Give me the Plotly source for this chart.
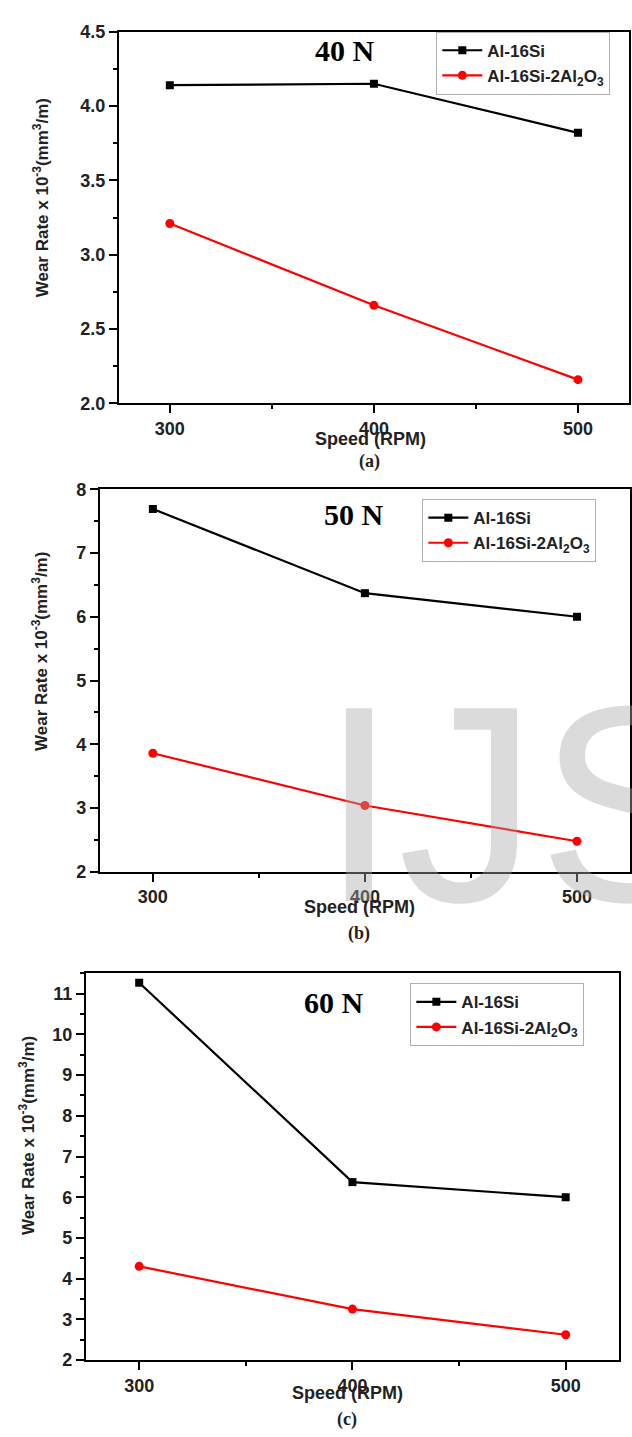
import plotly.graph_objects as go

W, H = 632, 1437

speed = [300, 400, 500]
series_names = ["Al-16Si", "Al-16Si-2Al<sub>2</sub>O<sub>3</sub>"]

wear_40N_al16si = [4.14, 4.15, 3.82]
wear_40N_composite = [3.21, 2.66, 2.16]
wear_50N_al16si = [7.69, 6.37, 6.00]
wear_50N_composite = [3.86, 3.04, 2.48]
wear_60N_al16si = [11.27, 6.37, 6.00]
wear_60N_composite = [4.30, 3.25, 2.62]

load_labels = ["40 N", "50 N", "60 N"]
panel_labels = ["(a)", "(b)", "(c)"]
y_ranges = [[2.0, 4.5], [2.0, 8.0], [2.0, 11.5]]
y_dticks = [0.5, 1, 1]
y_formats = [".1f", "d", "d"]

panels = [
    (wear_40N_al16si, wear_40N_composite),
    (wear_50N_al16si, wear_50N_composite),
    (wear_60N_al16si, wear_60N_composite),
]

# layout geometry in pixels
xdom_px = [(119, 630), (100, 631), (86, 620)]
ydom_px = [(22, 399), (486, 874), (977, 1369)]
ytitle_px = [(41, 190), (40, 650), (27, 1141)]
xtitle_px = [(371, 435), (360, 910), (348, 1403)]
plab_px = [(370, 458), (360, 937), (348, 1429)]
load_px = [(346, 41), (355, 512), (335, 1007)]
legend_px = [(437, 22), (423, 496), (411, 987)]


def px(x):
    return x / W


def py(y):
    return 1 - y / H


fig = go.Figure()
annotations = []

black = "#000000"
red = "#ff0000"
sans = "Liberation Sans, Arial, sans-serif"
serif = "Liberation Serif, Times New Roman, serif"
tick_font = dict(family=sans, size=18, color="#222222", weight="bold")

for i, (s1, s2) in enumerate(panels):
    k = "" if i == 0 else str(i + 1)
    xa = "x" + k
    ya = "y" + k
    leg = "legend" + k
    fig.add_trace(go.Scatter(
        x=speed, y=s1, name=series_names[0], mode="lines+markers",
        line=dict(color=black, width=2.2), marker=dict(symbol="square", size=8, color=black),
        xaxis=xa, yaxis=ya, legend=leg))
    fig.add_trace(go.Scatter(
        x=speed, y=s2, name=series_names[1], mode="lines+markers",
        line=dict(color=red, width=2.2), marker=dict(symbol="circle", size=9, color=red),
        xaxis=xa, yaxis=ya, legend=leg))

    x0, x1 = xdom_px[i]
    y0, y1 = ydom_px[i]
    common = dict(showline=True, linewidth=2, linecolor=black, mirror=True,
                  showgrid=False, zeroline=False, ticks="outside", ticklen=8, tickwidth=2,
                  tickcolor=black, tickfont=tick_font)
    fig.update_layout(**{
        "xaxis" + k: dict(domain=[px(x0), px(x1)], range=[275, 525], tickvals=speed,
                          anchor=ya, minor=dict(ticks="outside", ticklen=4, tickwidth=2,
                                                tickcolor=black, dtick=50, tick0=300),
                          **common),
        "yaxis" + k: dict(domain=[py(y1), py(y0)], range=y_ranges[i], dtick=y_dticks[i],
                          tick0=2, tickformat=y_formats[i], anchor=xa,
                          minor=dict(ticks="outside", ticklen=4, tickwidth=2, tickcolor=black,
                                     dtick=y_dticks[i] / 2, tick0=2),
                          **common),
        leg: dict(x=px(legend_px[i][0]), y=py(legend_px[i][1]), xanchor="left", yanchor="top",
                  bgcolor="white", bordercolor="#b0b0b0", borderwidth=1,
                  font=dict(family=sans, size=17, color="#222222", weight="bold"),
                  tracegroupgap=0, itemwidth=40),
    })

    annotations.append(dict(
        x=px(ytitle_px[i][0]), y=py(ytitle_px[i][1]), xref="paper", yref="paper",
        text="Wear Rate x 10<sup>-3</sup>(mm<sup>3</sup>/m)", textangle=-90, showarrow=False,
        xanchor="center", yanchor="middle",
        font=dict(family=sans, size=17, color="#222222", weight="bold")))
    annotations.append(dict(
        x=px(xtitle_px[i][0]), y=py(xtitle_px[i][1]), xref="paper", yref="paper",
        text="Speed (RPM)", showarrow=False, xanchor="center", yanchor="middle",
        font=dict(family=sans, size=18, color="#222222", weight="bold")))
    annotations.append(dict(
        x=px(plab_px[i][0]), y=py(plab_px[i][1]), xref="paper", yref="paper",
        text=panel_labels[i], showarrow=False, xanchor="center", yanchor="middle",
        font=dict(family=serif, size=18, color="#222222", weight="bold")))
    annotations.append(dict(
        x=px(load_px[i][0]), y=py(load_px[i][1]), xref="paper", yref="paper",
        text=load_labels[i], showarrow=False, xanchor="center", yanchor="middle",
        font=dict(family=serif, size=30, color="#000000", weight="bold")))

# faint watermark in the middle panel
annotations.append(dict(
    x=px(319), y=py(805), xref="paper", yref="paper", text="IJSER", showarrow=False,
    xanchor="left", yanchor="middle",
    font=dict(family=sans, size=280, color="rgba(170,170,170,0.42)")))

fig.update_layout(
    width=W, height=H, autosize=False,
    margin=dict(l=0, r=0, t=0, b=0),
    paper_bgcolor="white", plot_bgcolor="white",
    annotations=annotations,
)

fig.write_html("out.html")
